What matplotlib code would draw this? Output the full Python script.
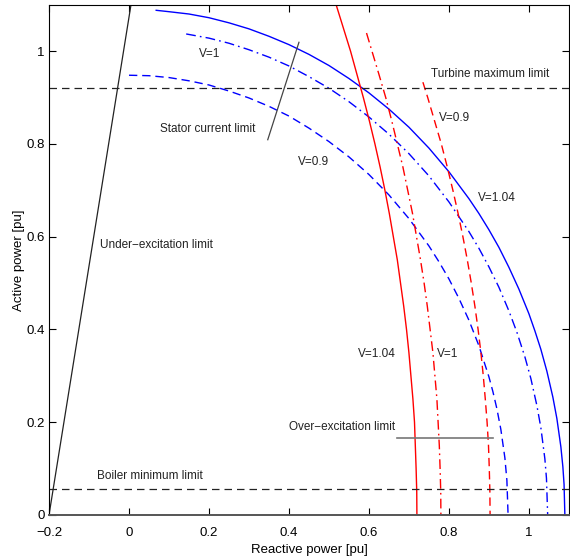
"""Generator capability chart (P-Q diagram) with stator / excitation limits."""

import matplotlib

matplotlib.use("Agg")
import matplotlib.pyplot as plt

plt.rcParams["font.family"] = ["Liberation Sans", "DejaVu Sans"]

# ── data ─────────────────────────────────────────────────────────────────────
# stator current limits (blue), Q values and matching P values
stator_v104_q = [0.068, 0.1, 0.15, 0.2, 0.25, 0.3, 0.35, 0.4, 0.45, 0.5, 0.55, 0.6, 0.65, 0.7,
                 0.75, 0.8, 0.85, 0.875, 0.9, 0.925, 0.95, 0.975, 1.0, 1.015, 1.03, 1.045,
                 1.06, 1.07, 1.08, 1.085, 1.088, 1.09]
stator_v104_p = [1.088, 1.085, 1.080, 1.072, 1.061, 1.048, 1.032, 1.014, 0.993, 0.969, 0.941,
                 0.910, 0.875, 0.836, 0.791, 0.740, 0.682, 0.650, 0.615, 0.577, 0.534, 0.487,
                 0.434, 0.397, 0.357, 0.310, 0.254, 0.208, 0.147, 0.104, 0.066, 0.0]

stator_v1_q = [0.143, 0.2, 0.25, 0.3, 0.35, 0.4, 0.45, 0.5, 0.55, 0.6, 0.65, 0.7, 0.75, 0.8,
               0.85, 0.875, 0.9, 0.925, 0.95, 0.97, 0.99, 1.005, 1.02, 1.03, 1.04, 1.044, 1.047]
stator_v1_p = [1.037, 1.028, 1.017, 1.003, 0.987, 0.968, 0.945, 0.920, 0.891, 0.858, 0.821,
               0.779, 0.731, 0.675, 0.611, 0.575, 0.535, 0.491, 0.440, 0.394, 0.341, 0.294,
               0.236, 0.188, 0.121, 0.079, 0.0]

stator_v09_q = [0.0, 0.05, 0.1, 0.15, 0.2, 0.25, 0.3, 0.35, 0.4, 0.45, 0.5, 0.55, 0.6, 0.65,
                0.7, 0.75, 0.775, 0.8, 0.825, 0.85, 0.875, 0.9, 0.91, 0.92, 0.93, 0.94, 0.945,
                0.948]
stator_v09_p = [0.948, 0.947, 0.943, 0.936, 0.927, 0.914, 0.899, 0.881, 0.860, 0.834, 0.805,
                0.772, 0.734, 0.690, 0.639, 0.580, 0.546, 0.509, 0.467, 0.420, 0.365, 0.298,
                0.266, 0.229, 0.184, 0.123, 0.075, 0.0]

# over-excitation limits (red), P values and matching Q values
overexc_v104_p = [1.1, 1.05, 1.0, 0.95, 0.9, 0.85, 0.8, 0.75, 0.7, 0.65, 0.6, 0.55, 0.5, 0.45,
                  0.4, 0.35, 0.3, 0.25, 0.2, 0.15, 0.1, 0.05, 0.0]
overexc_v104_q = [0.518, 0.536, 0.554, 0.570, 0.586, 0.601, 0.615, 0.628, 0.640, 0.651, 0.661,
                  0.671, 0.679, 0.687, 0.694, 0.700, 0.705, 0.710, 0.714, 0.716, 0.718, 0.7196,
                  0.720]

overexc_v1_p = [1.039, 0.95, 0.9, 0.85, 0.8, 0.75, 0.7, 0.65, 0.6, 0.55, 0.5, 0.45, 0.4, 0.35,
                0.3, 0.25, 0.2, 0.15, 0.1, 0.05, 0.0]
overexc_v1_q = [0.594, 0.625, 0.642, 0.657, 0.671, 0.685, 0.697, 0.709, 0.719, 0.729, 0.738,
                0.746, 0.753, 0.760, 0.765, 0.770, 0.773, 0.776, 0.778, 0.7796, 0.780]

overexc_v09_p = [0.933, 0.9, 0.85, 0.8, 0.75, 0.7, 0.65, 0.6, 0.55, 0.5, 0.45, 0.4, 0.35, 0.3,
                 0.25, 0.2, 0.15, 0.1, 0.05, 0.0]
overexc_v09_q = [0.735, 0.747, 0.764, 0.781, 0.796, 0.810, 0.823, 0.835, 0.846, 0.856, 0.865,
                 0.873, 0.880, 0.886, 0.891, 0.8955, 0.899, 0.901, 0.9025, 0.903]

# under-excitation limit (black line)
underexc_q = [-0.2, 0.005]
underexc_p = [0.0, 1.1]

turbine_max = 0.92
boiler_min = 0.055

# pointer lines for the annotations
stator_ptr_q = [0.347, 0.425]
stator_ptr_p = [0.809, 1.019]
overexc_ptr_q = [0.671, 0.911]
overexc_ptr_p = [0.166, 0.166]

labels = [
    ("Turbine maximum limit", 0.755, 0.95),
    ("V=0.9", 0.775, 0.855),
    ("V=1", 0.175, 0.993),
    ("Stator current limit", 0.078, 0.832),
    ("V=0.9", 0.423, 0.76),
    ("V=1.04", 0.873, 0.684),
    ("Under\u2212excitation limit", -0.072, 0.583),
    ("V=1.04", 0.573, 0.348),
    ("V=1", 0.77, 0.348),
    ("Over\u2212excitation limit", 0.40, 0.19),
    ("Boiler minimum limit", -0.08, 0.084),
]

x_ticks = [-0.2, 0, 0.2, 0.4, 0.6, 0.8, 1]
x_tick_labels = ["\u22120.2", "0", "0.2", "0.4", "0.6", "0.8", "1"]
y_ticks = [0, 0.2, 0.4, 0.6, 0.8, 1]
y_tick_labels = ["0", "0.2", "0.4", "0.6", "0.8", "1"]

# ── figure ───────────────────────────────────────────────────────────────────
fig = plt.figure(figsize=(5.7, 5.57), dpi=100)
ax = fig.add_axes([0.086, 0.0755, 0.912, 0.916])

dash = (0, (6, 3.5))
dashdot = (0, (7, 3, 1.2, 3))

ax.plot(stator_v104_q, stator_v104_p, color="blue", lw=1.0, ls="-")
ax.plot(stator_v1_q, stator_v1_p, color="blue", lw=1.0, ls=dashdot)
ax.plot(stator_v09_q, stator_v09_p, color="blue", lw=1.0, ls=dash)

ax.plot(overexc_v104_q, overexc_v104_p, color="red", lw=1.0, ls="-")
ax.plot(overexc_v1_q, overexc_v1_p, color="red", lw=1.0, ls=dashdot)
ax.plot(overexc_v09_q, overexc_v09_p, color="red", lw=1.0, ls=dash)

ax.plot(underexc_q, underexc_p, color="#222222", lw=0.9)
ax.axhline(turbine_max, color="#222222", lw=0.9, ls=(0, (6, 4)))
ax.axhline(boiler_min, color="#222222", lw=0.9, ls=(0, (6, 4)))

ax.plot(stator_ptr_q, stator_ptr_p, color="#444444", lw=0.9)
ax.plot(overexc_ptr_q, overexc_ptr_p, color="#777777", lw=1.2)

for text, qx, py in labels:
    ax.text(qx, py, text, fontsize=8.5, va="center", ha="left", color="#222222")

ax.set_xlim(-0.2, 1.1)
ax.set_ylim(0, 1.1)
ax.set_xticks(x_ticks)
ax.set_xticklabels(x_tick_labels)
ax.set_yticks(y_ticks)
ax.set_yticklabels(y_tick_labels)
ax.tick_params(direction="in", length=5, width=0.8, top=True, right=True, labelsize=9.5)
ax.tick_params(axis="x", pad=9)
ax.tick_params(axis="y", pad=3)
ax.set_xlabel("Reactive power [pu]", fontsize=9.5, labelpad=3)
ax.set_ylabel("Active power [pu]", fontsize=9.5, labelpad=1)
for sp in ax.spines.values():
    sp.set_linewidth(0.8)
ax.spines["bottom"].set_color("#555555")
ax.spines["bottom"].set_linewidth(1.4)

fig.savefig("out.png", dpi=100)
plt.close(fig)
